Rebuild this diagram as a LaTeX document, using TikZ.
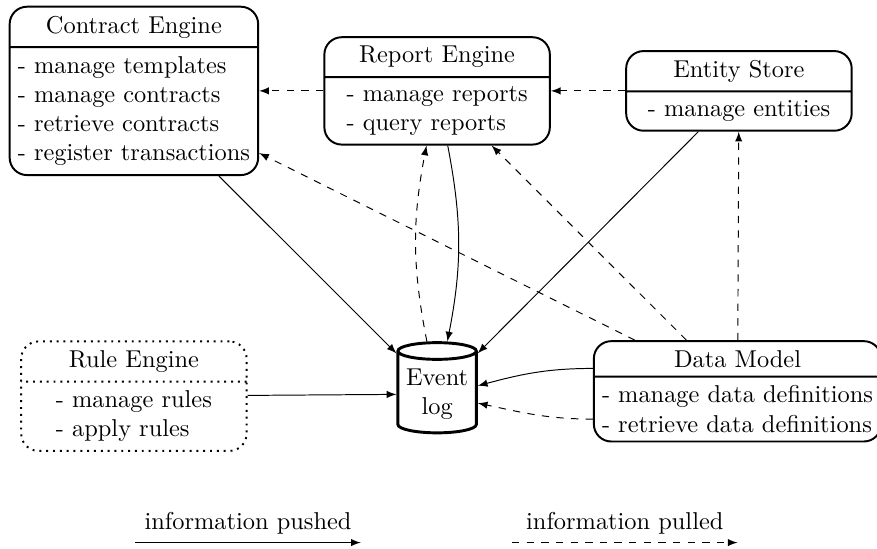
\documentclass[tikz,border=0pt]{standalone}
\usepackage{amsmath,amssymb}
\usetikzlibrary{shapes,arrows,positioning}
\tikzstyle{block} = [draw,thick,rectangle split,rectangle split parts=2,rounded corners=2.5mm,minimum width=3.25cm,align=left]
\tikzstyle{ruleblock} = [block,dotted]
\tikzstyle{store} = [draw,very thick,cylinder,shape border rotate=90,aspect=0.25,align=center,minimum width=1.13cm,minimum height=1.3cm,inner sep=1pt]
\tikzstyle{push} = [->,>=latex]
\tikzstyle{pull} = [->,>=latex,dashed]

\begin{document}
\begin{tikzpicture}
      \useasboundingbox (0,0) rectangle (12.64,-7.90);
      \node[block] (contract) at (1.93,-1.31) {Contract Engine
        \nodepart{two} - manage templates\\ - manage contracts\\ - retrieve contracts\\ - register transactions};
      \node[block] (report) at (6.30,-1.31) {Report Engine
        \nodepart{two} - manage reports\\ - query reports};
      \node[block] (entity) at (10.65,-1.31) {Entity Store
        \nodepart{two} - manage entities};
      \node[ruleblock] (rule) at (1.93,-5.71) {Rule Engine
        \nodepart{two} - manage rules\\ - apply rules};
      \node[store] (event) at (6.30,-5.68) {Event\\log};
      \node[block] (data) at (10.63,-5.64) {Data Model
        \nodepart{two} - manage data definitions\\ - retrieve data definitions};
      \draw[pull] (report) -- (contract);
      \draw[pull] (entity) -- (report);
      \draw[push] (contract) -- (event);
      \draw[pull] (event) to[bend left=11] (report);
      \draw[push] (report) to[bend left=11] (event);
      \draw[push] (entity) -- (event);
      \draw[pull] (data) -- (contract);
      \draw[pull] (data) -- (report);
      \draw[pull] (data) -- (entity);
      \draw[push] (rule) -- (event);
      \draw[push] ([yshift=3.3mm]data.west) to[out=180,in=15] ([yshift=1.2mm]event.east);
      \draw[pull] ([yshift=-4mm]data.west) to[out=180,in=-12] ([yshift=-1.3mm]event.east);
      \coordinate (pushA) at (1.95,-7.82);
      \coordinate (pushB) at (5.20,-7.82);
      \coordinate (pullA) at (7.38,-7.82);
      \coordinate (pullB) at (10.63,-7.82);
      \draw[push] (pushA) -- node[above]{information pushed} (pushB);
      \draw[pull] (pullA) -- node[above]{information pulled} (pullB);
    \end{tikzpicture}
\end{document}
